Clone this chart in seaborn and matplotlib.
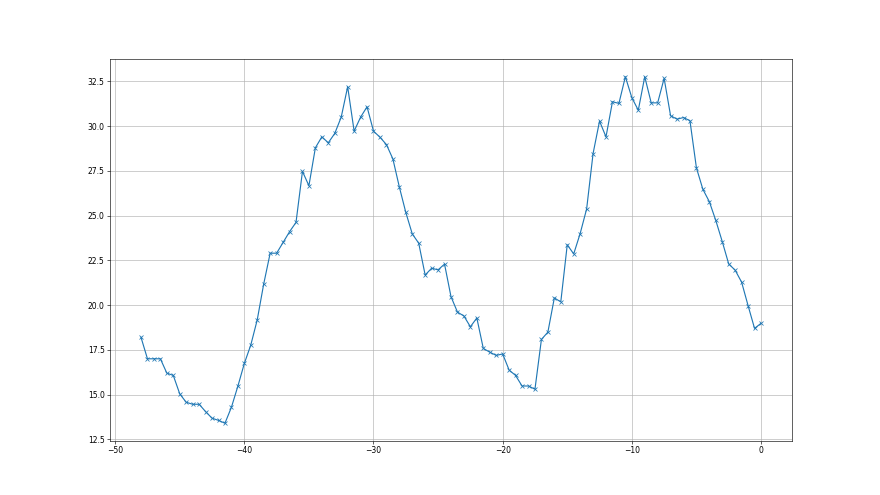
import matplotlib
matplotlib.use("Agg")
import matplotlib.pyplot as plt
import seaborn as sns

x_values = [
    -48.0, -47.5, -47.0, -46.5, -46.0, -45.5, -45.0, -44.5, -44.0, -43.5,
    -43.0, -42.5, -42.0, -41.5, -41.0, -40.5, -40.0, -39.5, -39.0, -38.5,
    -38.0, -37.5, -37.0, -36.5, -36.0, -35.5, -35.0, -34.5, -34.0, -33.5,
    -33.0, -32.5, -32.0, -31.5, -31.0, -30.5, -30.0, -29.5, -29.0, -28.5,
    -28.0, -27.5, -27.0, -26.5, -26.0, -25.5, -25.0, -24.5, -24.0, -23.5,
    -23.0, -22.5, -22.0, -21.5, -21.0, -20.5, -20.0, -19.5, -19.0, -18.5,
    -18.0, -17.5, -17.0, -16.5, -16.0, -15.5, -15.0, -14.5, -14.0, -13.5,
    -13.0, -12.5, -12.0, -11.5, -11.0, -10.5, -10.0, -9.5, -9.0, -8.5,
    -8.0, -7.5, -7.0, -6.5, -6.0, -5.5, -5.0, -4.5, -4.0, -3.5,
    -3.0, -2.5, -2.0, -1.5, -1.0, -0.5, 0.0,
]

y_values = [
    18.2, 17.0, 17.0, 17.0, 16.2, 16.07, 15.04, 14.57, 14.46, 14.46,
    14.05, 13.68, 13.56, 13.40, 14.29, 15.47, 16.74, 17.77, 19.18, 21.18,
    22.9, 22.9, 23.5, 24.1, 24.62, 27.47, 26.67, 28.79, 29.4, 29.07,
    29.59, 30.5, 32.2, 29.72, 30.5, 31.08, 29.72, 29.38, 28.97, 28.17,
    26.6, 25.18, 23.98, 23.46, 21.68, 22.06, 21.97, 22.29, 20.47, 19.61,
    19.39, 18.79, 19.28, 17.58, 17.37, 17.19, 17.27, 16.37, 16.07, 15.48,
    15.48, 15.3, 18.08, 18.49, 20.4, 20.18, 23.37, 22.86, 24.0, 25.37,
    28.47, 30.28, 29.4, 31.36, 31.27, 32.76, 31.59, 30.89, 32.76, 31.3,
    31.3, 32.67, 30.58, 30.39, 30.48, 30.3, 27.67, 26.47, 25.78, 24.73,
    23.55, 22.3, 21.95, 21.28, 19.97, 18.7, 18.98,
]

fig, ax = plt.subplots(figsize=(16, 9), dpi=55)
sns.lineplot(x=x_values, y=y_values, ax=ax, marker="x", color="C0",
             markeredgecolor="C0", markeredgewidth=1.0, markersize=6,
             linewidth=1.5, estimator=None, sort=False)
ax.grid(True, color="#b0b0b0", linewidth=0.8)
ax.set_yticks([12.5, 15.0, 17.5, 20.0, 22.5, 25.0, 27.5, 30.0, 32.5])
ax.set_xticks([-50, -40, -30, -20, -10, 0])
fig.savefig("out.png", dpi=55)
